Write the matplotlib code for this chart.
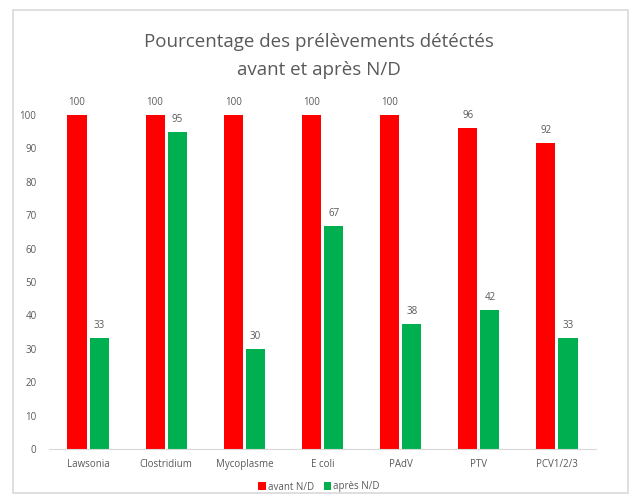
import matplotlib.pyplot as plt
import numpy as np
from matplotlib.patches import Rectangle

categories = ['Lawsonia', 'Clostridium', 'Mycoplasme', 'E coli', 'PAdV', 'PTV', 'PCV1/2/3']
avant = [100, 100, 100, 100, 100, 96, 91.7]
apres = [33.3, 95, 30, 66.7, 37.5, 41.7, 33.3]

plt.rcParams['font.family'] = ['Open Sans', 'DejaVu Sans']
grey = '#595959'

fig = plt.figure(figsize=(6.38, 4.97), dpi=100)
fig.patches.append(Rectangle((13/638, 1 - 493/497), 615/638, 483/497, transform=fig.transFigure,
                             fill=False, edgecolor='#d9d9d9', linewidth=1.2))
ax = fig.add_axes([49/638, 1 - 449/497, 547/638, 334/497])

x = np.arange(len(categories))
w = 0.245
b1 = ax.bar(x - w/2 - 0.02, avant, w, color='#ff0000', label='avant N/D')
b2 = ax.bar(x + w/2 + 0.02, apres, w, color='#00b050', label='après N/D')
for bars in (b1, b2):
    ax.bar_label(bars, labels=[f'{v:.0f}' for v in bars.datavalues], padding=5, fontsize=7, color=grey)

ax.set_xlim(-0.5, len(categories) - 0.5)
ax.set_ylim(0, 100)
ax.set_yticks(range(0, 101, 10))
ax.set_xticks(x)
ax.set_xticklabels(categories)
ax.tick_params(axis='both', length=0, labelsize=7, colors=grey)
ax.tick_params(axis='y', pad=9)
ax.tick_params(axis='x', pad=7)
for s in ['top', 'right', 'left']:
    ax.spines[s].set_visible(False)
ax.spines['bottom'].set_color('#d9d9d9')

fig.text(0.5, 1 - 42/497, 'Pourcentage des prélèvements détéctés', ha='center', va='center', fontsize=13.5, color=grey)
fig.text(0.5, 1 - 70/497, 'avant et après N/D', ha='center', va='center', fontsize=13.5, color=grey)

fig.legend(loc='center', bbox_to_anchor=(0.5, 1 - 487/497), ncol=2, frameon=False, fontsize=7,
           labelcolor=grey, handlelength=0.8, handleheight=0.8, handletextpad=0.2, columnspacing=1.0)

fig.savefig('out.png', dpi=100)
